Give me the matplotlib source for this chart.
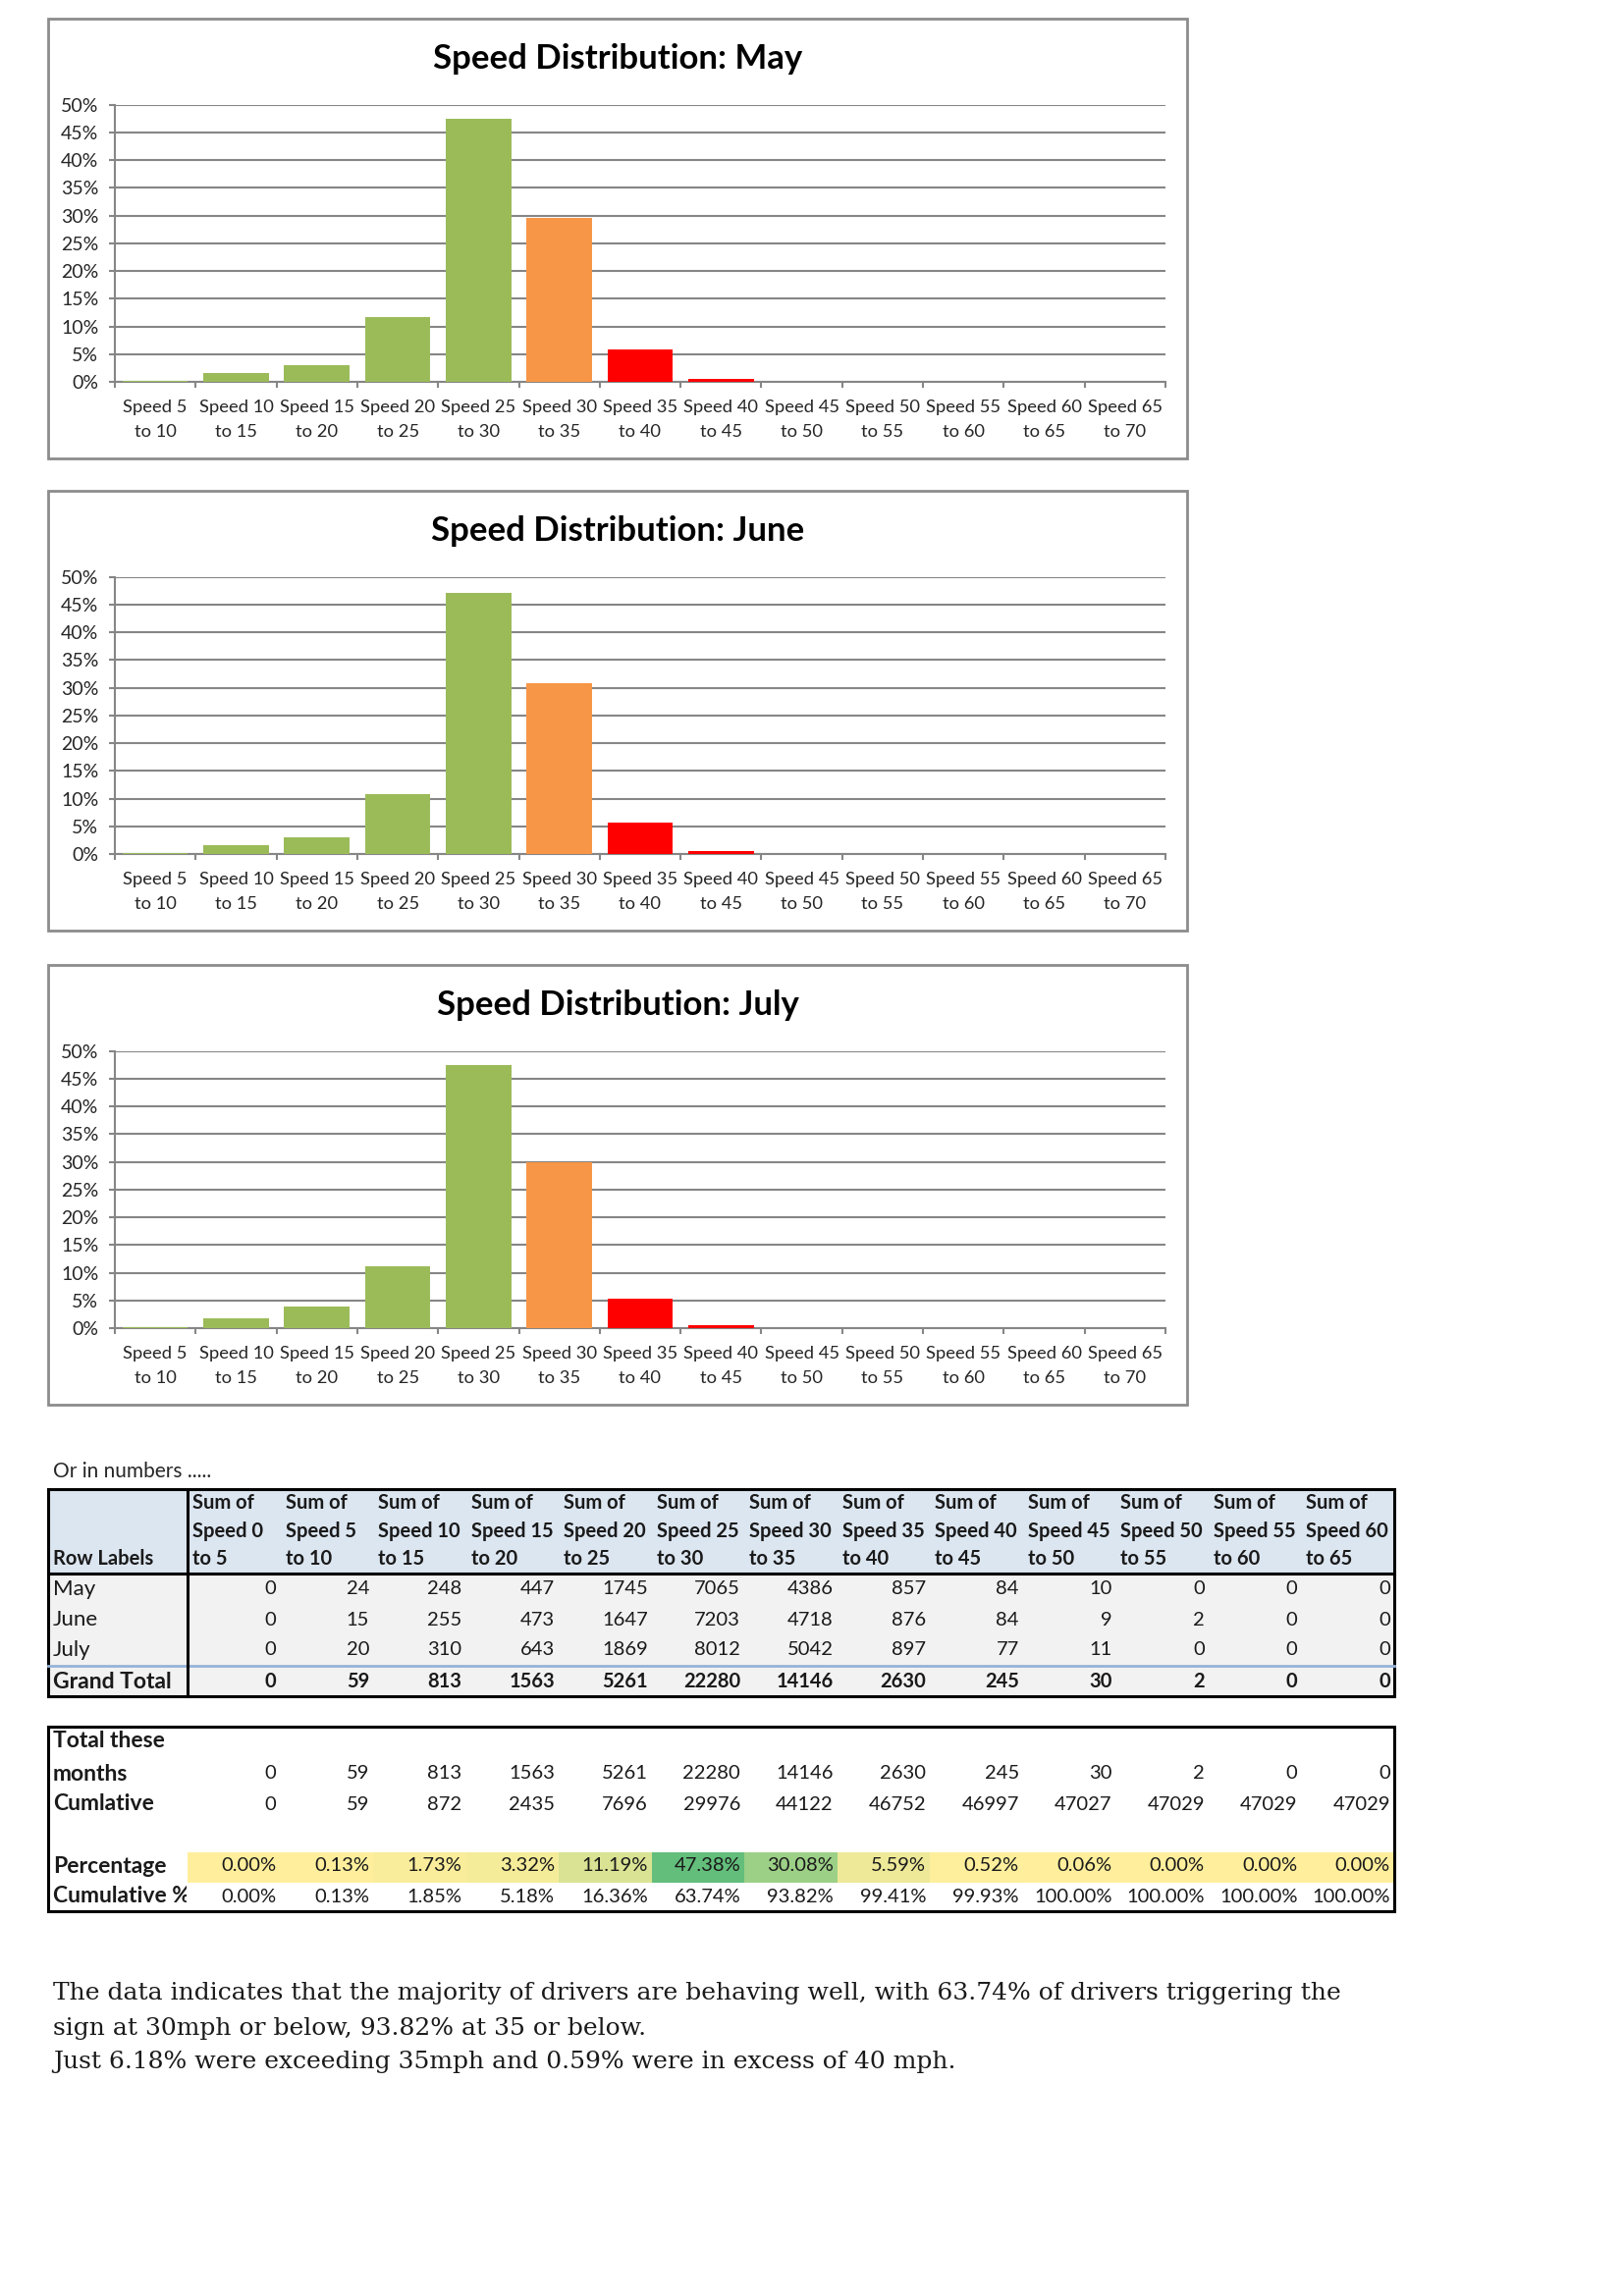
import numpy as np
import matplotlib
matplotlib.use('Agg')
import matplotlib.pyplot as plt
from matplotlib.patches import Rectangle
from matplotlib.lines import Line2D
from matplotlib.colors import LinearSegmentedColormap

# ---- data ----
chart_bins = ['Speed 5\nto 10', 'Speed 10\nto 15', 'Speed 15\nto 20', 'Speed 20\nto 25',
              'Speed 25\nto 30', 'Speed 30\nto 35', 'Speed 35\nto 40', 'Speed 40\nto 45',
              'Speed 45\nto 50', 'Speed 50\nto 55', 'Speed 55\nto 60', 'Speed 60\nto 65',
              'Speed 65\nto 70']
table_cols = ['Sum of\nSpeed 0\nto 5', 'Sum of\nSpeed 5\nto 10', 'Sum of\nSpeed 10\nto 15',
              'Sum of\nSpeed 15\nto 20', 'Sum of\nSpeed 20\nto 25', 'Sum of\nSpeed 25\nto 30',
              'Sum of\nSpeed 30\nto 35', 'Sum of\nSpeed 35\nto 40', 'Sum of\nSpeed 40\nto 45',
              'Sum of\nSpeed 45\nto 50', 'Sum of\nSpeed 50\nto 55', 'Sum of\nSpeed 55\nto 60',
              'Sum of\nSpeed 60\nto 65']
months = ['May', 'June', 'July']
may = [0, 24, 248, 447, 1745, 7065, 4386, 857, 84, 10, 0, 0, 0]
june = [0, 15, 255, 473, 1647, 7203, 4718, 876, 84, 9, 2, 0, 0]
july = [0, 20, 310, 643, 1869, 8012, 5042, 897, 77, 11, 0, 0, 0]
grand_total = [0, 59, 813, 1563, 5261, 22280, 14146, 2630, 245, 30, 2, 0, 0]
cumulative = [0, 59, 872, 2435, 7696, 29976, 44122, 46752, 46997, 47027, 47029, 47029, 47029]
percentage = [0.00, 0.13, 1.73, 3.32, 11.19, 47.38, 30.08, 5.59, 0.52, 0.06, 0.00, 0.00, 0.00]
cumulative_pct = [0.00, 0.13, 1.85, 5.18, 16.36, 63.74, 93.82, 99.41, 99.93, 100.00, 100.00, 100.00, 100.00]
speed_65_70 = 0  # not in the table, the chart shows it empty

summary = ['The data indicates that the majority of drivers are behaving well, with 63.74% of drivers triggering the',
           'sign at 30mph or below, 93.82% at 35 or below.',
           'Just 6.18% were exceeding 35mph and 0.59% were in excess of 40 mph.']

# ---- layout helpers (pixel coords, y from top) ----
W, H = 1653, 2339
fig = plt.figure(figsize=(W / 100, H / 100), dpi=100)
fig.patch.set_facecolor('white')
SANS = ['Lato', 'DejaVu Sans']
GRID = '#868686'
INK = '#1a1a1a'


def fx(x):
    return x / W


def fy(y):
    return 1 - y / H


def rect(x0, y0, x1, y1, **kw):
    r = Rectangle((fx(x0), fy(y1)), (x1 - x0) / W, (y1 - y0) / H, transform=fig.transFigure, **kw)
    fig.add_artist(r)
    return r


def line(x0, y0, x1, y1, **kw):
    fig.add_artist(Line2D([fx(x0), fx(x1)], [fy(y0), fy(y1)], transform=fig.transFigure, **kw))


def text(x, y, s, **kw):
    kw.setdefault('family', SANS)
    kw.setdefault('va', 'center')
    kw.setdefault('color', INK)
    return fig.text(fx(x), fy(y), s, **kw)


bar_colors = ['#9BBB59'] * 5 + ['#F79646'] + ['#FF0000'] * 7


def draw_chart(off, title, counts):
    counts = np.append(np.array(counts[1:], dtype=float), speed_65_70)
    values = counts / counts.sum()
    rect(49, 19 + off, 1209, 467 + off, facecolor='none', edgecolor='#8C8C8C', lw=2.0)
    text(629, 60 + off, title, fontsize=25, fontweight='bold', ha='center', color='black')
    ax = fig.add_axes([fx(117), fy(389 + off), (1187 - 117) / W, (389 - 106.7) / H])
    x = np.arange(len(chart_bins))
    ax.bar(x, values, width=0.81, color=bar_colors, zorder=3)
    ax.set_xlim(-0.5, len(chart_bins) - 0.5)
    ax.set_ylim(0, 0.5)
    ax.set_yticks(np.arange(0, 0.51, 0.05))
    ax.set_yticklabels([f'{int(round(v * 100))}%' for v in np.arange(0, 0.51, 0.05)])
    ax.yaxis.grid(True, color=GRID, lw=1.5, zorder=0)
    ax.set_axisbelow(True)
    for s in ['top', 'right']:
        ax.spines[s].set_visible(False)
    for s in ['left', 'bottom']:
        ax.spines[s].set_color(GRID)
        ax.spines[s].set_linewidth(1.5)
    ax.set_xticks(x)
    ax.set_xticklabels(chart_bins, linespacing=1.65)
    ax.set_xticks(np.arange(-0.5, len(chart_bins)), minor=True)
    ax.tick_params(axis='x', which='major', length=0, pad=13)
    ax.tick_params(axis='x', which='minor', length=4, width=1.5, color=GRID)
    ax.tick_params(axis='y', length=4, width=1.5, color=GRID, pad=8)
    for lab in ax.get_xticklabels():
        lab.set_family(SANS)
        lab.set_fontsize(13.2)
        lab.set_color('#262626')
    for lab in ax.get_yticklabels():
        lab.set_family(SANS)
        lab.set_fontsize(14)
        lab.set_color('#262626')


draw_chart(0, 'Speed Distribution: May', may)
draw_chart(481, 'Speed Distribution: June', june)
draw_chart(964, 'Speed Distribution: July', july)

# ---- pivot table ----
text(54, 1499, 'Or in numbers .....', fontsize=15, color='#262626')
X0, X1, SEP = 49, 1420, 191
COLW = (X1 - SEP) / len(table_cols)
rect(X0, 1517, X1, 1603, facecolor='#DCE6F1', edgecolor='none')
rect(X0, 1603, X1, 1728, facecolor='#F2F2F2', edgecolor='none')
line(X0, 1697, X1, 1697, color='#95B3D7', lw=2.0)

for j, lab in enumerate(table_cols):
    for k, part in enumerate(lab.split('\n')):
        text(SEP + j * COLW + 5, 1531 + 28.5 * k, part, fontsize=14.5, fontweight='bold')
text(54, 1588, 'Row Labels', fontsize=14.5, fontweight='bold')

row_y = [1619, 1650, 1681]
for name, vals, y in zip(months, [may, june, july], row_y):
    text(54, y, name, fontsize=16)
    for j, v in enumerate(vals):
        text(SEP + (j + 1) * COLW - 4, y, f'{v}', fontsize=14.5, ha='right')
text(54, 1713, 'Grand Total', fontsize=16.5, fontweight='bold')
for j, v in enumerate(grand_total):
    text(SEP + (j + 1) * COLW - 4, 1713, f'{v}', fontsize=14.5, ha='right', fontweight='bold')

rect(X0, 1517, X1, 1728, facecolor='none', edgecolor='black', lw=2.2)
line(SEP, 1517, SEP, 1728, color='black', lw=2.2)
line(X0, 1603, X1, 1603, color='black', lw=2.2)

# ---- summary table ----
cmap = LinearSegmentedColormap.from_list('scale', ['#FFEF9C', '#63BE7B'])
pmax = max(percentage)
for j, p in enumerate(percentage):
    rect(SEP + j * COLW, 1887, SEP + (j + 1) * COLW, 1918, facecolor=cmap(p / pmax), edgecolor='none')

text(54, 1774, 'Total these', fontsize=16.5, fontweight='bold')
text(54, 1807, 'months', fontsize=16.5, fontweight='bold')
text(54, 1838, 'Cumlative', fontsize=16.5, fontweight='bold')
text(54, 1901, 'Percentage', fontsize=16.5, fontweight='bold')
cum_lab = text(54, 1932, 'Cumulative %', fontsize=16.5, fontweight='bold')
clip = Rectangle((0, 0), fx(SEP - 1), 1, transform=fig.transFigure)
cum_lab.set_clip_path(clip)

for j in range(len(table_cols)):
    xr = SEP + (j + 1) * COLW - 4
    text(xr, 1807, f'{grand_total[j]}', fontsize=14.5, ha='right')
    text(xr, 1838, f'{cumulative[j]}', fontsize=14.5, ha='right')
    text(xr, 1901, f'{percentage[j]:.2f}%', fontsize=14.5, ha='right')
    text(xr, 1932, f'{cumulative_pct[j]:.2f}%', fontsize=14.5, ha='right')

rect(X0, 1759, X1, 1947, facecolor='none', edgecolor='black', lw=2.2)

# ---- commentary ----
for k, s in enumerate(summary):
    text(54, 2031 + 35 * k, s, fontsize=18, family=['DejaVu Serif'], color='#1a1a1a')

fig.savefig('out.png', dpi=100)
plt.close(fig)
